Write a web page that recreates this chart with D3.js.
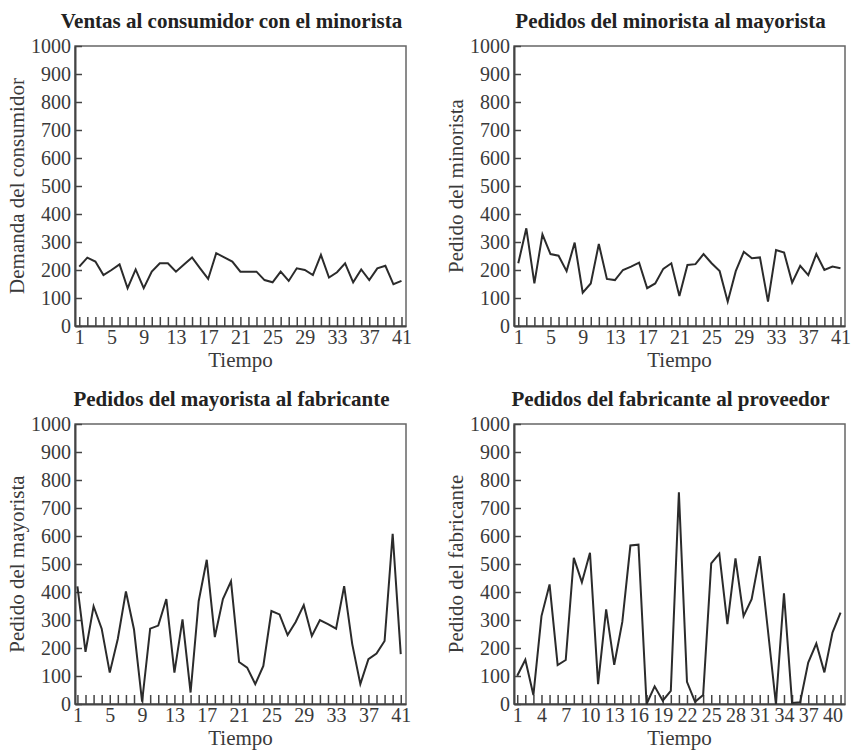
<!DOCTYPE html>
<html>
<head>
<meta charset="utf-8">
<script src="https://cdn.jsdelivr.net/npm/d3@7"></script>
<style>
  body { margin: 0; background: #fff; }
  text { font-family: "Liberation Serif", "Times New Roman", serif; fill: #2a2a2a; }
  .title { font-weight: bold; font-size: 21px; fill: #222; }
  .tick text { font-size: 20px; fill: #3a3a3a; }
  .axis-label { font-size: 21px; fill: #3a3a3a; }
</style>
</head>
<body>
<div id="chart-area"></div>
<script>
// time steps 1..41
const tiempo = [1,2,3,4,5,6,7,8,9,10,11,12,13,14,15,16,17,18,19,20,21,
  22,23,24,25,26,27,28,29,30,31,32,33,34,35,36,37,38,39,40,41]

const yTicks = [0,100,200,300,400,500,600,700,800,900,1000]
const xLabels4 = [1,5,9,13,17,21,25,29,33,37,41]
const xLabels3 = [1,4,7,10,13,16,19,22,25,28,31,34,37,40]

const ventas = [212,244,230,182,200,220,135,202,135,194,224,224,194,220,245,206,168,260,245,230,
  194,194,194,164,156,194,161,206,200,182,254,173,192,224,156,202,164,206,215,149,161]
const pedMinorista = [224,349,152,327,257,251,196,298,119,152,293,168,164,200,212,226,135,152,204,224,
  107,218,221,257,224,196,87,196,265,242,245,87,271,262,155,215,182,257,200,212,206]
const pedMayorista = [420,186,349,269,112,233,402,266,8,269,280,375,112,302,41,367,515,239,375,438,
  150,130,71,136,332,320,246,293,353,243,300,285,269,421,214,71,160,180,225,608,178]
const pedFabricante = [101,158,32,314,427,139,157,522,435,540,71,338,140,293,566,569,0,63,12,47,
  756,79,8,32,502,537,285,520,314,374,528,267,0,395,4,6,148,216,113,255,326]

const titles = ["Ventas al consumidor con el minorista", "Pedidos del minorista al mayorista",
  "Pedidos del mayorista al fabricante", "Pedidos del fabricante al proveedor"]
const yLabels = ["Demanda del consumidor", "Pedido del minorista", "Pedido del mayorista", "Pedido del fabricante"]

const svg = d3.select("#chart-area").append("svg")
  .attr("width", 857)
  .attr("height", 752)

const panels = [
  { values: ventas, left: 75, top: 46, dom: [0.47, 41.56], labels: xLabels4 },
  { values: pedMinorista, left: 514, top: 46, dom: [0.47, 41.56], labels: xLabels4 },
  { values: pedMayorista, left: 75, top: 424, dom: [0.7, 41.65], labels: xLabels4 },
  { values: pedFabricante, left: 514, top: 424, dom: [0.6, 41.55], labels: xLabels3 }
]
const W = 331, H = 280

panels.forEach((p, i) => {
  const g = svg.append("g").attr("transform", `translate(${p.left}, ${p.top})`)

  const x = d3.scaleLinear().domain(p.dom).range([0, W])
  const y = d3.scaleLinear().domain([0, 1000]).range([H, 0])

  // title
  g.append("text")
    .attr("class", "title")
    .attr("x", W / 2 - 9)
    .attr("y", -18)
    .attr("text-anchor", "middle")
    .text(titles[i])

  // frame
  g.append("rect")
    .attr("width", W).attr("height", H)
    .attr("fill", "none")
    .attr("stroke", "#666")
    .attr("stroke-width", 1.5)

  // y axis, ticks inside
  const yAxis = g.append("g").attr("class", "y axis")
    .call(d3.axisLeft(y).tickValues(yTicks).tickSize(-7).tickSizeOuter(0).tickPadding(4)
      .tickFormat(d3.format("d")))
  yAxis.select(".domain").attr("stroke", "#444").attr("stroke-width", 2)
  yAxis.selectAll(".tick line").attr("stroke", "#444").attr("stroke-width", 1.5)

  // x axis, every step ticked, some labelled
  const xAxis = g.append("g").attr("class", "x axis")
    .attr("transform", `translate(0, ${H})`)
    .call(d3.axisBottom(x).tickValues(tiempo).tickSize(-9).tickSizeOuter(0).tickPadding(4)
      .tickFormat(d => p.labels.includes(d) ? d : ""))
  xAxis.select(".domain").attr("stroke", "#444").attr("stroke-width", 2)
  xAxis.selectAll(".tick line").attr("stroke", "#444").attr("stroke-width", 1.5)

  // labels
  g.append("text")
    .attr("class", "axis-label")
    .attr("x", W / 2)
    .attr("y", H + 41)
    .attr("text-anchor", "middle")
    .text("Tiempo")

  g.append("text")
    .attr("class", "axis-label")
    .attr("transform", "rotate(-90)")
    .attr("x", -H / 2)
    .attr("y", -51)
    .attr("text-anchor", "middle")
    .text(yLabels[i])

  // series line
  const line = d3.line()
    .x((d, j) => x(tiempo[j]))
    .y(d => y(d))

  g.append("path")
    .datum(p.values)
    .attr("fill", "none")
    .attr("stroke", "#2b2b2b")
    .attr("stroke-width", 2)
    .attr("d", line)
})

// drop d3's default axis font so the css font applies
svg.selectAll(".axis").attr("font-family", null).attr("font-size", null)
</script>
</body>
</html>
